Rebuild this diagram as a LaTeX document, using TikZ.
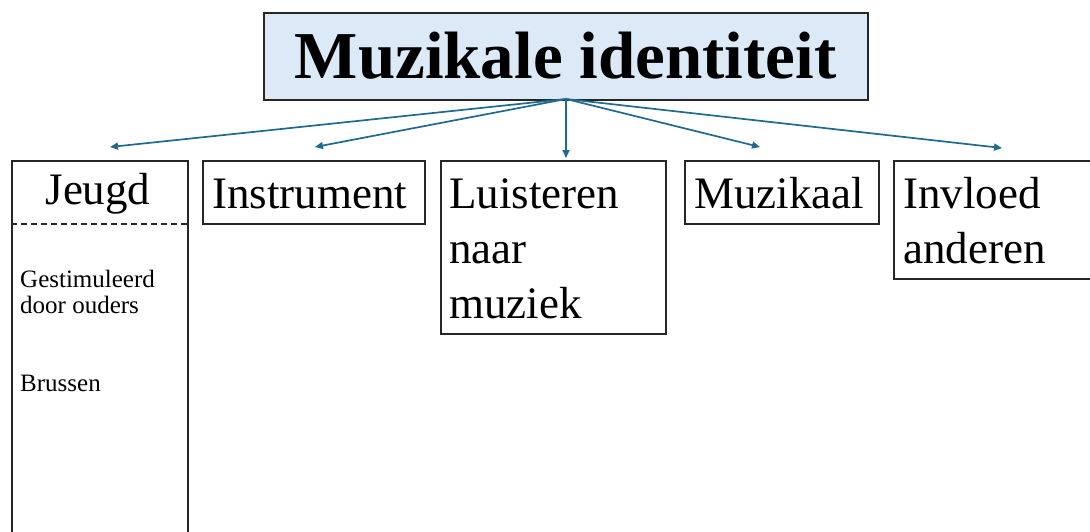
\documentclass[tikz,border=0pt]{standalone}
\usepackage{fontspec}
\setmainfont{Liberation Serif}
\usetikzlibrary{arrows.meta}
\definecolor{titlefill}{HTML}{DCE9F6}
\definecolor{arrowcol}{HTML}{21698E}
\definecolor{boxline}{HTML}{262626}
\tikzset{
  boxshape/.style={draw=boxline, line width=2pt, fill=white, inner sep=0pt, anchor=north west},
  boxtext/.style={inner sep=0pt, anchor=base west, font=\fontsize{45}{55}\selectfont},
  smalltext/.style={inner sep=0pt, anchor=base west, font=\fontsize{25}{26}\selectfont},
  link/.style={draw=arrowcol, line width=1.7pt, -{Triangle[length=8pt,width=7pt]}}
}
\begin{document}
\begin{tikzpicture}[x=1pt,y=-1pt]
\useasboundingbox (0,0) rectangle (1090,531);
\clip (0,0) rectangle (1090,531);
\fill[white] (0,0) rectangle (1090,531);
% title
\node[draw=boxline, line width=2.4pt, fill=titlefill, inner sep=0pt, minimum width=604pt, minimum height=87pt, anchor=north west] (title) at (263,12) {};
\node[inner sep=0pt, anchor=base, font=\fontsize{67}{80}\selectfont\bfseries] (titletext) at (565.5,78) {Muzikale identiteit};
% boxes
\node[boxshape, minimum width=176pt, minimum height=400pt] (jeugd) at (11,160) {};
\draw[boxline, line width=2pt, dash pattern=on 6pt off 4pt] (jeugd.west |- 0,224) coordinate (dl) -- (jeugd.east |- 0,224) coordinate (dr);
\node[boxshape, minimum width=222pt, minimum height=63pt] (instr) at (202,160) {};
\node[boxshape, minimum width=225pt, minimum height=173pt] (luist) at (440,160) {};
\node[boxshape, minimum width=194pt, minimum height=63pt] (muzik) at (684,160) {};
\node[boxshape, minimum width=220pt, minimum height=118pt] (invl) at (893,160) {};
% texts
\node[inner sep=0pt, anchor=base, font=\fontsize{45}{55}\selectfont] (jeugdtext) at (98,204) {Jeugd};
\node[smalltext] (gest) at (20,287) {\parbox[t]{170pt}{\fontsize{25}{26}\selectfont Gestimuleerd\\door ouders}};
\node[smalltext] (bruss) at (20,391) {Brussen};
\node[boxtext] (instrtext) at (212,208) {Instrument};
\node[boxtext] (luisttext) at (449,208) {\parbox[t]{210pt}{\fontsize{45}{55}\selectfont Luisteren\\naar\\muziek}};
\node[boxtext] (muziktext) at (694,208) {Muzikaal};
\node[boxtext] (invltext) at (903,208) {\parbox[t]{200pt}{\fontsize{45}{55}\selectfont Invloed\\anderen}};
% arrows
\coordinate (src) at (566,99);
\coordinate (e1) at (110,147);
\coordinate (e2) at (315,147);
\coordinate (e3) at (566,158);
\coordinate (e4) at (760,147);
\coordinate (e5) at (1002,148);
\draw[link] (src) -- (e1);
\draw[link] (src) -- (e2);
\draw[link] (src) -- (e3);
\draw[link] (src) -- (e4);
\draw[link] (src) -- (e5);
\end{tikzpicture}
\end{document}
